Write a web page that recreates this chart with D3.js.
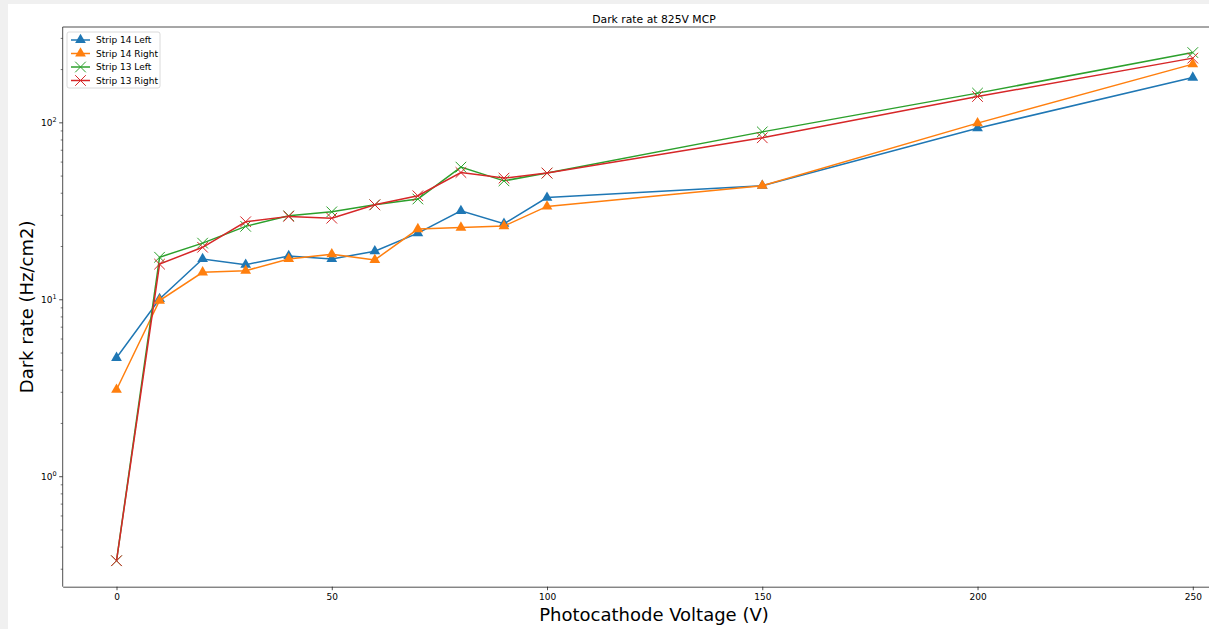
<!DOCTYPE html>
<html>
<head>
<meta charset="utf-8">
<script src="https://cdn.jsdelivr.net/npm/d3@7"></script>
<style>
  body { margin: 0; background: #f0f0f0; }
  svg { display: block; font-family: "DejaVu Sans", sans-serif; }
</style>
</head>
<body>
<div id="vis"></div>
<script>
const FRAME_HEIGHT = 629;
const FRAME_WIDTH = 1209;
const MARGINS = {left: 62.7, top: 27, bottom: 42.3};
const VIS_HEIGHT = FRAME_HEIGHT - MARGINS.top - MARGINS.bottom;
const PLOT_RIGHT = 1246.6; // axes run past the crop at the right

// data
const VOLTAGES = [0, 10, 20, 30, 40, 50, 60, 70, 80, 90, 100, 150, 200, 250];
const STRIP14_LEFT = [4.70, 10.1, 17.0, 15.8, 17.7, 17.0, 18.8, 23.8, 31.8, 26.9, 37.8, 44.1, 93.3, 180.3];
const STRIP14_RIGHT = [3.10, 9.9, 14.3, 14.6, 17.0, 18.1, 16.8, 25.1, 25.6, 26.1, 33.7, 44.1, 99.6, 214.6];
const STRIP13_LEFT = [0.335, 17.4, 20.9, 26.0, 29.8, 31.4, 34.4, 37.1, 56.2, 47.0, 52.0, 88.9, 147.2, 249.6];
const STRIP13_RIGHT = [0.335, 15.9, 19.8, 27.6, 29.6, 28.9, 34.4, 38.7, 52.4, 48.7, 52.0, 82.3, 140.8, 232.1];
const SERIES_NAMES = ["Strip 14 Left", "Strip 14 Right", "Strip 13 Left", "Strip 13 Right"];
const X_TICKS = [0, 50, 100, 150, 200, 250];
const Y_MAJOR = [1, 10, 100];

const SERIES = [
  {name: SERIES_NAMES[0], values: STRIP14_LEFT, color: "#1f77b4", marker: "tri"},
  {name: SERIES_NAMES[1], values: STRIP14_RIGHT, color: "#ff7f0e", marker: "tri"},
  {name: SERIES_NAMES[2], values: STRIP13_LEFT, color: "#2ca02c", marker: "x"},
  {name: SERIES_NAMES[3], values: STRIP13_RIGHT, color: "#d62728", marker: "x"}
];

const FRAME = d3.select("#vis")
                .append("svg")
                .attr("width", FRAME_WIDTH)
                .attr("height", FRAME_HEIGHT);

// white figure area
FRAME.append("rect")
     .attr("x", 8).attr("y", 4)
     .attr("width", FRAME_WIDTH - 8).attr("height", FRAME_HEIGHT - 4)
     .attr("fill", "white");

const X_SCALE = d3.scaleLinear()
                  .domain([-12.5, 262.5])
                  .range([MARGINS.left, PLOT_RIGHT]);

const Y_SCALE = d3.scaleLog()
                  .domain([0.239, 348])
                  .range([MARGINS.top + VIS_HEIGHT, MARGINS.top]);

// clip for plot area
FRAME.append("clipPath").attr("id", "plotclip")
     .append("rect")
     .attr("x", MARGINS.left).attr("y", MARGINS.top)
     .attr("width", PLOT_RIGHT - MARGINS.left).attr("height", VIS_HEIGHT);

// Adding lines and markers
const LINE = d3.line()
               .x((d) => X_SCALE(d[0]))
               .y((d) => Y_SCALE(d[1]));

const PLOT = FRAME.append("g").attr("clip-path", "url(#plotclip)");

function drawMarker(g, kind, color) {
  if (kind === "tri") {
    g.append("path")
     .attr("d", d3.symbol().type(d3.symbolTriangle).size(50)())
     .attr("fill", color);
  } else {
    g.append("path")
     .attr("d", "M-5.3,-5.3L5.3,5.3M-5.3,5.3L5.3,-5.3")
     .attr("stroke", color)
     .attr("stroke-width", 1)
     .attr("fill", "none");
  }
}

SERIES.forEach((s) => {
  const pts = VOLTAGES.map((v, i) => [v, s.values[i]]);
  PLOT.append("path")
      .datum(pts)
      .attr("d", LINE)
      .attr("fill", "none")
      .attr("stroke", s.color)
      .attr("stroke-width", 1.5);
  pts.forEach((p) => {
    const g = PLOT.append("g")
                  .attr("transform", "translate(" + X_SCALE(p[0]) + "," + Y_SCALE(p[1]) + ")");
    drawMarker(g, s.marker, s.color);
  });
});

// Adding axes
const AXIS_COLOR = "#222";

FRAME.append("g")
     .attr("transform", "translate(0," + (MARGINS.top + VIS_HEIGHT) + ")")
     .call(d3.axisBottom(X_SCALE).tickValues(X_TICKS).tickSize(3.5).tickPadding(3).tickSizeOuter(0))
     .call((g) => g.select(".domain").attr("stroke", AXIS_COLOR).attr("stroke-width", 0.8))
     .call((g) => g.selectAll(".tick line").attr("stroke", AXIS_COLOR).attr("stroke-width", 0.8))
     .call((g) => g.selectAll("text").attr("font-size", "9px").attr("fill", "#000")
                   .attr("font-family", "DejaVu Sans"));

// y minor ticks
const Y_MINOR = [];
[0.1, 1, 10, 100].forEach((dec) => {
  for (let m = 2; m <= 9; m++) {
    const v = dec * m;
    if (v > 0.239 && v < 348) Y_MINOR.push(v);
  }
});

const YAXIS = FRAME.append("g")
                   .attr("transform", "translate(" + MARGINS.left + ",0)");

YAXIS.append("line")
     .attr("x1", 0).attr("x2", 0)
     .attr("y1", MARGINS.top).attr("y2", MARGINS.top + VIS_HEIGHT)
     .attr("stroke", AXIS_COLOR).attr("stroke-width", 0.8);

YAXIS.selectAll(".minor")
     .data(Y_MINOR)
     .enter()
     .append("line")
       .attr("x1", -2).attr("x2", 0)
       .attr("y1", (d) => Y_SCALE(d)).attr("y2", (d) => Y_SCALE(d))
       .attr("stroke", AXIS_COLOR).attr("stroke-width", 0.6);

YAXIS.selectAll(".major")
     .data(Y_MAJOR)
     .enter()
     .append("line")
       .attr("x1", -3.5).attr("x2", 0)
       .attr("y1", (d) => Y_SCALE(d)).attr("y2", (d) => Y_SCALE(d))
       .attr("stroke", AXIS_COLOR).attr("stroke-width", 0.8);

const YLABELS = YAXIS.selectAll(".ylab")
                     .data(Y_MAJOR)
                     .enter()
                     .append("text")
                       .attr("x", -6)
                       .attr("y", (d) => Y_SCALE(d) + 3)
                       .attr("text-anchor", "end")
                       .attr("font-size", "9px");
YLABELS.append("tspan").text("10");
YLABELS.append("tspan")
       .attr("dy", -4)
       .attr("font-size", "6.5px")
       .text((d) => Math.round(Math.log10(d)));

// top spine
FRAME.append("line")
     .attr("x1", MARGINS.left).attr("x2", FRAME_WIDTH)
     .attr("y1", MARGINS.top).attr("y2", MARGINS.top)
     .attr("stroke", AXIS_COLOR).attr("stroke-width", 0.8);

// Adding title and labels
FRAME.append("text")
     .attr("x", 654).attr("y", 22.5)
     .attr("text-anchor", "middle")
     .attr("font-size", "10.8px")
     .text("Dark rate at 825V MCP");

FRAME.append("text")
     .attr("x", 654).attr("y", 621)
     .attr("text-anchor", "middle")
     .attr("font-size", "18px")
     .text("Photocathode Voltage (V)");

FRAME.append("text")
     .attr("transform", "translate(33," + (MARGINS.top + VIS_HEIGHT / 2) + ") rotate(-90)")
     .attr("text-anchor", "middle")
     .attr("font-size", "18px")
     .text("Dark rate (Hz/cm2)");

// Adding legend
const LEGEND = FRAME.append("g").attr("transform", "translate(67,32)");

LEGEND.append("rect")
      .attr("width", 93).attr("height", 56)
      .attr("rx", 2)
      .attr("fill", "white").attr("fill-opacity", 0.8)
      .attr("stroke", "#d0d0d0").attr("stroke-width", 0.8);

SERIES.forEach((s, i) => {
  const row = LEGEND.append("g")
                    .attr("transform", "translate(0," + (8 + i * 13.5) + ")");
  row.append("line")
     .attr("x1", 4).attr("x2", 23)
     .attr("stroke", s.color).attr("stroke-width", 1.5);
  const mg = row.append("g").attr("transform", "translate(13.5,0)");
  drawMarker(mg, s.marker, s.color);
  row.append("text")
     .attr("x", 29).attr("y", 3.2)
     .attr("font-size", "9px")
     .text(s.name);
});
</script>
</body>
</html>
